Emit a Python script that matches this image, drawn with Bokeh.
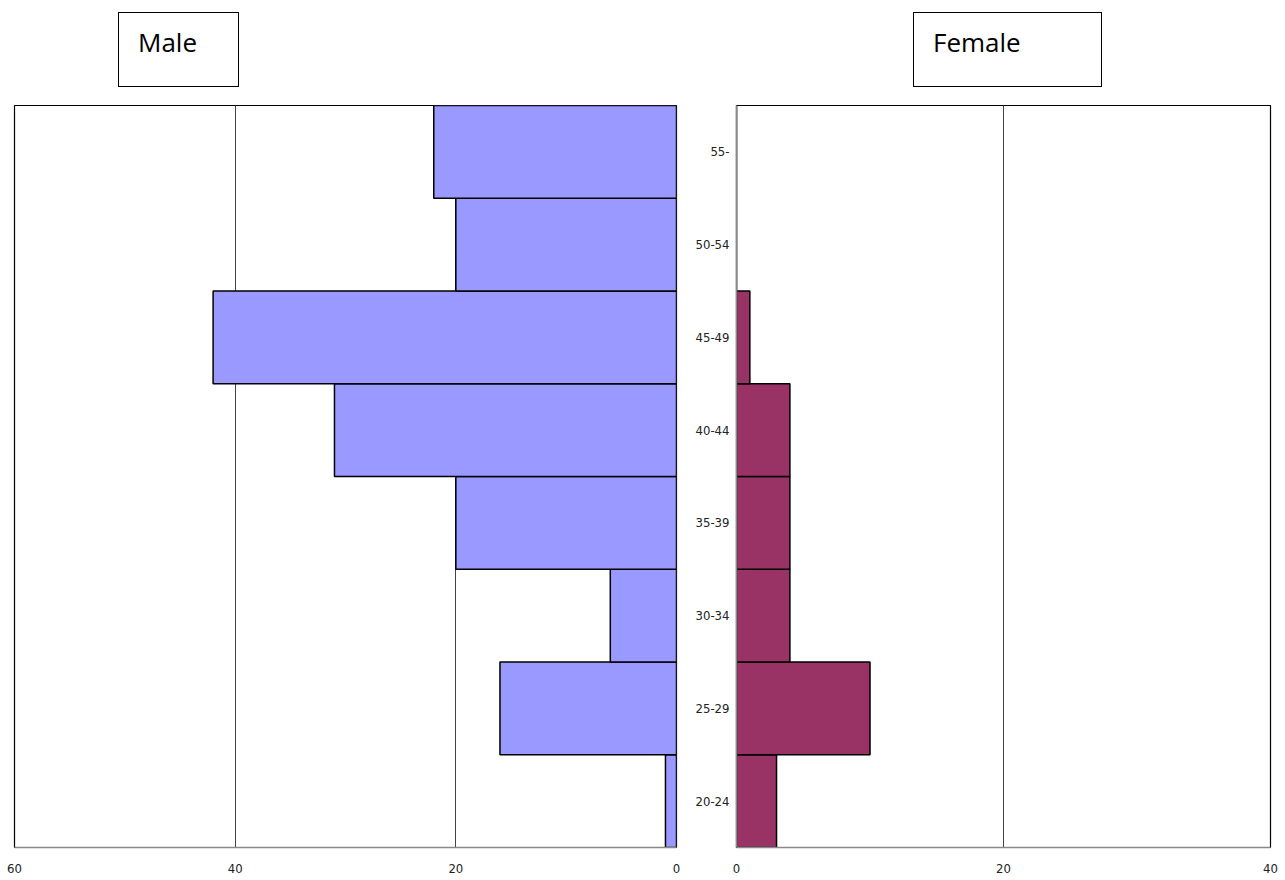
from bokeh.plotting import figure
from bokeh.models import Range1d, FactorRange, FixedTicker, Div
from bokeh.layouts import column, row
from bokeh.embed import file_html
from bokeh.resources import INLINE

age_groups = ["20-24", "25-29", "30-34", "35-39", "40-44", "45-49", "50-54", "55-"]
male = [1, 16, 6, 20, 31, 42, 20, 22]
female = [3, 10, 4, 4, 4, 1, 0, 0]
male_ticks = [0, 20, 40, 60]
female_ticks = [0, 20, 40]

TICK_FONT = "DejaVu Sans Condensed"
TICK_SIZE = "13px"


def style(p, ticks):
    p.background_fill_color = "white"
    p.border_fill_color = "white"
    p.outline_line_color = "black"
    p.outline_line_width = 1.2
    p.xaxis.ticker = FixedTicker(ticks=ticks)
    p.xgrid.ticker = FixedTicker(ticks=ticks)
    p.xgrid.grid_line_color = "#444444"
    p.xgrid.grid_line_width = 1
    p.ygrid.grid_line_color = None
    p.xaxis.axis_line_color = "#888888"
    p.xaxis.axis_line_width = 1.5
    p.xaxis.major_tick_line_color = None
    p.xaxis.minor_tick_line_color = None
    p.xaxis.major_tick_out = 0
    p.xaxis.major_tick_in = 0
    p.xaxis.major_label_text_font = TICK_FONT
    p.xaxis.major_label_text_font_size = TICK_SIZE
    p.xaxis.major_label_text_color = "#222222"
    p.xaxis.major_label_standoff = 16


p1 = figure(width=680, height=777, x_range=Range1d(60, 0),
            y_range=FactorRange(factors=age_groups, range_padding=0),
            output_backend="svg", toolbar_location=None, y_axis_location=None,
            min_border_left=14, min_border_right=4, min_border_top=1, min_border_bottom=33)
p1.hbar(y=age_groups, left=0, right=male, height=1, fill_color="#9999FF",
        line_color="black", line_width=1.5)
style(p1, male_ticks)

p2 = figure(width=605, height=777, x_range=Range1d(0, 40),
            y_range=FactorRange(factors=age_groups, range_padding=0),
            output_backend="svg", toolbar_location=None,
            min_border_left=56, min_border_right=15, min_border_top=2, min_border_bottom=33)
p2.hbar(y=age_groups, left=0, right=female, height=1, fill_color="#993366",
        line_color="black", line_width=1.5)
style(p2, female_ticks)
p2.yaxis.axis_line_color = "#888888"
p2.yaxis.axis_line_width = 1.5
p2.yaxis.major_tick_line_color = None
p2.yaxis.major_tick_out = 0
p2.yaxis.major_tick_in = 0
p2.yaxis.major_label_standoff = 7
p2.yaxis.major_label_text_font = TICK_FONT
p2.yaxis.major_label_text_font_size = TICK_SIZE
p2.yaxis.major_label_text_color = "#222222"


def box(label, w, pad_left):
    return ('<div style="width:%dpx;height:75px;border:1.5px solid #000;box-sizing:border-box;'
            'padding:16px 0 0 %dpx;font-family:\'Open Sans\';font-size:26px;line-height:26px;'
            'color:#000;background:#fff;">%s</div>' % (w, pad_left, label))


d1 = Div(text=box("Male", 121, 19), width=121, height=75, margin=(12, 0, 16, 118))
d2 = Div(text=box("Female", 189, 19), width=189, height=75, margin=(12, 0, 0, 674))

layout = column(row(d1, d2), row(p1, p2))

open("out.html", "w").write(file_html(layout, INLINE))
